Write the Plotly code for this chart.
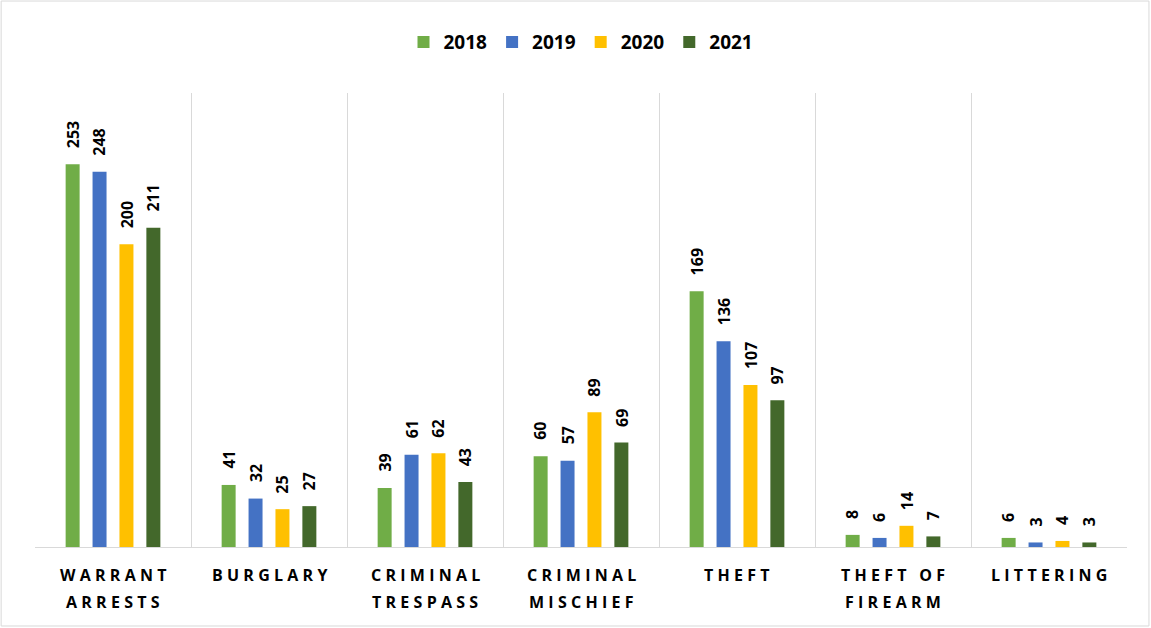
import plotly.graph_objects as go

# Offense categories; axis labels are drawn as one or two stacked lines
categories = ["WARRANT ARRESTS", "BURGLARY", "CRIMINAL TRESPASS", "CRIMINAL MISCHIEF",
              "THEFT", "THEFT OF FIREARM", "LITTERING"]
label_lines = [["WARRANT", "ARRESTS"], ["BURGLARY"], ["CRIMINAL", "TRESPASS"],
               ["CRIMINAL", "MISCHIEF"], ["THEFT"], ["THEFT OF", "FIREARM"], ["LITTERING"]]

years = ["2018", "2019", "2020", "2021"]
counts_2018 = [253, 41, 39, 60, 169, 8, 6]
counts_2019 = [248, 32, 61, 57, 136, 6, 3]
counts_2020 = [200, 25, 62, 89, 107, 14, 4]
counts_2021 = [211, 27, 43, 69, 97, 7, 3]

colors = ["#70ad47", "#4472c4", "#ffc000", "#43682b"]

BARGAP = 0.31
BARGROUPGAP = 0.48


def spaced(text):
    # widen letter spacing of an axis label
    return "\u2009\u200a".join(ch if ch != " " else " " for ch in text)


series = [counts_2018, counts_2019, counts_2020, counts_2021]
fig = go.Figure()
for year, vals, col in zip(years, series, colors):
    fig.add_trace(go.Bar(name=year, x=categories, y=vals, marker_color=col, marker_line_width=0))

# vertical value labels above each bar, placed at the bar's own value
slot = (1 - BARGAP) / len(series)
for k, vals in enumerate(series):
    offset = -(1 - BARGAP) / 2 + slot * (k + 0.5)
    for i, v in enumerate(vals):
        fig.add_annotation(x=i + offset, y=v, xref="x", yref="y", text=str(v),
                           textangle=-90, showarrow=False, yanchor="bottom", yshift=14,
                           font=dict(family="Open Sans", size=16, color="#000000", weight="bold"))

# category labels under the axis
for i, lines in enumerate(label_lines):
    for j, ln in enumerate(lines):
        fig.add_annotation(x=i, y=0, xref="x", yref="y", text=spaced(ln), showarrow=False,
                           yanchor="middle", yshift=-28 - 27 * j,
                           font=dict(family="Open Sans", size=16, color="#000000", weight="bold"))

# light frame around the whole chart
fig.add_shape(type="rect", xref="paper", yref="paper",
              x0=-0.031, x1=1.0201, y0=-0.174, y1=1.2026,
              line=dict(color="#d9d9d9", width=1), fillcolor="rgba(0,0,0,0)", layer="below")

fig.update_layout(
    width=1151, height=628,
    margin=dict(l=35, r=24, t=93, b=81, autoexpand=False),
    paper_bgcolor="white", plot_bgcolor="white",
    barmode="group", bargap=BARGAP, bargroupgap=BARGROUPGAP,
    font=dict(family="Open Sans", color="#000000"),
    legend=dict(orientation="h", x=0.5, xanchor="center", y=1.112, yanchor="middle",
                font=dict(size=19, weight="bold"), traceorder="normal"),
    xaxis=dict(
        type="category", tickson="boundaries", showgrid=True, gridcolor="#d9d9d9", gridwidth=1,
        showticklabels=False, ticks="",
        showline=True, linecolor="#d9d9d9", linewidth=1,
    ),
    yaxis=dict(range=[0, 300], showgrid=False, showticklabels=False, zeroline=False, showline=False),
)

fig.write_html("out.html")
